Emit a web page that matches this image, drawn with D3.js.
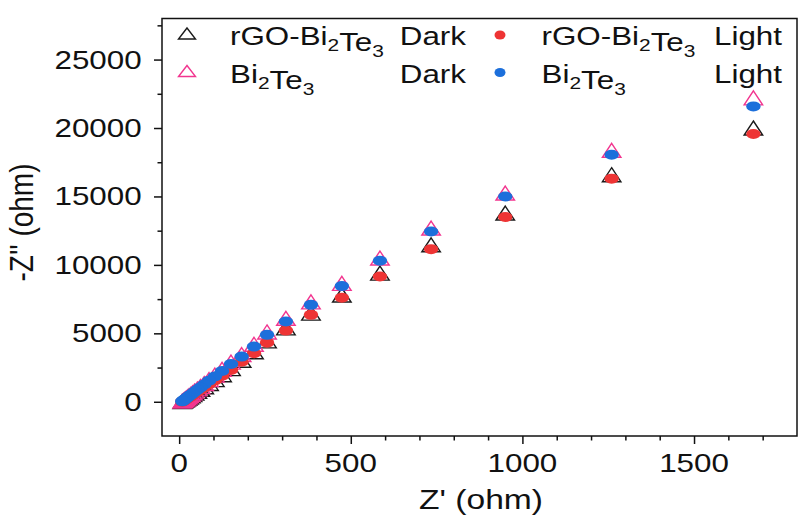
<!DOCTYPE html>
<html>
<head>
<meta charset="utf-8">
<script src="https://cdn.jsdelivr.net/npm/d3@7/dist/d3.min.js"></script>
<style>
  html, body { margin: 0; padding: 0; background: #fff; }
  svg { display: block; }
  text { font-family: "Liberation Sans", Arial, Helvetica, sans-serif; fill: #111; }
</style>
</head>
<body>
<svg id="chart" width="800" height="523"></svg>
<script>
// Nyquist data: Z' (ohm) and -Z'' (ohm) for each sample / illumination state
const zReal = [1673, 1260, 950, 734, 585, 474, 384, 311, 256, 218, 182, 151,
               125, 104, 87, 73, 62, 53, 45, 39, 34, 29, 25, 21, 18, 15, 12, 9];
const bi2te3Dark  = [22200, 18370, 15250, 12690, 10500, 8650, 7300, 6100, 5100, 4200, 3450, 2900,
                     2370, 1950, 1620, 1340, 1120, 940, 780, 660, 550, 450, 370, 290, 220, 160, 100, 50];
const bi2te3Light = [21580, 18050, 15000, 12440, 10300, 8450, 7080, 5860, 4890, 4030, 3300, 2760,
                     2250, 1850, 1530, 1260, 1050, 880, 730, 610, 510, 420, 340, 260, 200, 140, 80, 30];
const rgoDark     = [20000, 16590, 13790, 11470, 9400, 7800, 6480, 5400, 4450, 3650, 3030, 2420,
                     1980, 1620, 1340, 1100, 910, 760, 630, 520, 430, 350, 280, 210, 160, 110, 60, 20];
const rgoLight    = [19560, 16300, 13500, 11150, 9150, 7600, 6350, 5200, 4320, 3550, 2930, 2330,
                     1910, 1560, 1290, 1060, 880, 730, 600, 500, 410, 330, 260, 200, 150, 100, 50, 10];

const xMajorTicks = [0, 500, 1000, 1500];
const xMinorTicks = [100, 200, 300, 400, 600, 700, 800, 900, 1100, 1200, 1300, 1400, 1600, 1700];
const yMajorTicks = [0, 5000, 10000, 15000, 20000, 25000];
const yMinorTicks = [2500, 7500, 12500, 17500, 22500, 27500];

const COLORS = { black: "#1a1a1a", pink: "#f2358f", red: "#ee3434", blue: "#1c6fdb" };
const SX = 1.23;        // horizontal glyph stretch used for all text
const FS = 25.5;        // base font size

const svg = d3.select("#chart");
const plotLeft = 162, plotRight = 797, plotTop = 18.5, plotBottom = 436;

const x = d3.scaleLinear().domain([-50, 1800]).range([plotLeft, plotRight]);
const y = d3.scaleLinear().domain([-2500, 28000]).range([plotBottom, plotTop]);

// stretched text helper: anchor point (px, py) is the text baseline anchor
function label(px, py, str, anchor, size) {
  return svg.append("g").attr("transform", `translate(${px},${py}) scale(${SX},1)`)
    .append("text").attr("text-anchor", anchor).style("font-size", (size || FS) + "px").text(str);
}

// ---- axes (tick marks via d3-axis, labels drawn separately) ----
function tickAxis(axis, tx, ty, values, size) {
  const g = svg.append("g").attr("transform", `translate(${tx},${ty})`)
    .call(axis.tickValues(values).tickSize(size).tickSizeOuter(0).tickFormat(""));
  g.select(".domain").remove();
  g.selectAll(".tick line").attr("stroke", "#111").attr("stroke-width", 1.5);
  g.selectAll(".tick text").remove();
}
tickAxis(d3.axisBottom(x), 0, plotBottom, xMajorTicks, 8);
tickAxis(d3.axisBottom(x), 0, plotBottom, xMinorTicks, 4.5);
tickAxis(d3.axisLeft(y), plotLeft, 0, yMajorTicks, 8);
tickAxis(d3.axisLeft(y), plotLeft, 0, yMinorTicks, 4.5);

xMajorTicks.forEach(v => label(x(v), plotBottom + 35.7, d3.format("d")(v), "middle"));
yMajorTicks.forEach(v => label(plotLeft - 20.3, y(v) + 9, d3.format("d")(v), "end"));

// frame
svg.append("rect")
  .attr("x", plotLeft).attr("y", plotTop)
  .attr("width", plotRight - plotLeft).attr("height", plotBottom - plotTop)
  .attr("fill", "none").attr("stroke", "#111").attr("stroke-width", 1.5);

// axis titles
svg.append("g").attr("transform", `translate(481,509) scale(1.2,1)`)
  .append("text").attr("text-anchor", "middle").style("font-size", "28px").text("Z' (ohm)");
svg.append("g").attr("transform", `translate(33,222.5) scale(1.2,1) rotate(-90)`)
  .append("text").attr("text-anchor", "middle").style("font-size", "28px").text("-Z'' (ohm)");

// ---- markers ----
const triPath = (w, h) => `M0,${-h / 2}L${w / 2},${h / 2}L${-w / 2},${h / 2}Z`;

function triangles(values, color) {
  svg.append("g").selectAll("path")
    .data(zReal.map((zr, i) => [zr, values[i]]))
    .join("path")
    .attr("d", triPath(18.5, 14))
    .attr("transform", d => `translate(${x(d[0])},${y(d[1])})`)
    .attr("fill", "none").attr("stroke", color).attr("stroke-width", 1.4)
    .attr("stroke-linejoin", "miter");
}
function dots(values, color) {
  svg.append("g").selectAll("ellipse")
    .data(zReal.map((zr, i) => [zr, values[i]]))
    .join("ellipse")
    .attr("cx", d => x(d[0])).attr("cy", d => y(d[1]))
    .attr("rx", 7.2).attr("ry", 5)
    .attr("fill", color);
}

triangles(rgoDark, COLORS.black);
triangles(bi2te3Dark, COLORS.pink);
dots(rgoLight, COLORS.red);
dots(bi2te3Light, COLORS.blue);

// ---- legend ----
function formula(px, py, parts) {
  const t = svg.append("g").attr("transform", `translate(${px},${py}) scale(${SX},1)`)
    .append("text").style("font-size", FS + "px");
  parts.forEach(p => {
    if (p.sub) {
      t.append("tspan").attr("dy", 6).style("font-size", "17px").text(p.s);
      t.append("tspan").attr("dy", -6).text("");
    } else {
      t.append("tspan").text(p.s);
    }
  });
}
const rgoName = [{ s: "rGO-Bi" }, { s: "2", sub: true }, { s: "Te" }, { s: "3", sub: true }];
const biName = [{ s: "Bi" }, { s: "2", sub: true }, { s: "Te" }, { s: "3", sub: true }];

const legendRows = [
  { cy: 33.5, base: 45, name1: rgoName, mark1: COLORS.black, name2: rgoName, mark2: COLORS.red },
  { cy: 71, base: 82.7, name1: biName, mark1: COLORS.pink, name2: biName, mark2: COLORS.blue }
];
legendRows.forEach(r => {
  svg.append("path").attr("d", triPath(17, 11))
    .attr("transform", `translate(187,${r.cy})`)
    .attr("fill", "none").attr("stroke", r.mark1).attr("stroke-width", 1.4);
  formula(230, r.base, r.name1);
  label(466, r.base, "Dark", "end");
  svg.append("ellipse").attr("cx", 500).attr("cy", r.cy + 1.5).attr("rx", 5.5).attr("ry", 4.5)
    .attr("fill", r.mark2);
  formula(541.5, r.base, r.name2);
  label(782, r.base, "Light", "end");
});
</script>
</body>
</html>
